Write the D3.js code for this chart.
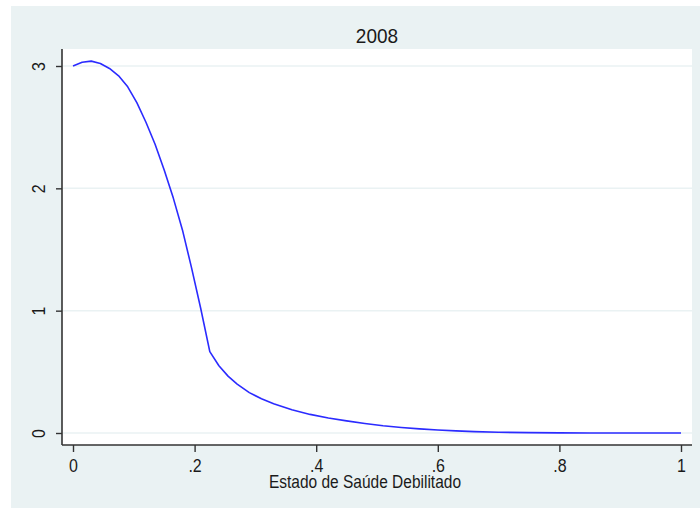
<!DOCTYPE html>
<html>
<head>
<meta charset="utf-8">
<script src="https://cdn.jsdelivr.net/npm/d3@7"></script>
<style>
  html, body { margin: 0; padding: 0; background: #ffffff; }
  svg { display: block; }
  text { font-family: "Liberation Sans", Arial, sans-serif; fill: #1a1a1a; }
</style>
</head>
<body>
<svg id="chart" width="700" height="508"></svg>
<script>
// Kernel density estimate of "Estado de Saúde Debilitado", 2008
const xValues = [0, 0.015, 0.03, 0.045, 0.06, 0.075, 0.09, 0.105, 0.12, 0.135,
  0.15, 0.165, 0.18, 0.195, 0.21, 0.225, 0.24, 0.255, 0.27, 0.29,
  0.31, 0.33, 0.36, 0.39, 0.42, 0.45, 0.48, 0.51, 0.54, 0.57,
  0.60, 0.63, 0.66, 0.70, 0.75, 0.80, 0.85, 0.90, 0.95, 1.0];
const densityValues = [3.00, 3.03, 3.04, 3.02, 2.98, 2.92, 2.83, 2.70, 2.54, 2.36,
  2.15, 1.92, 1.66, 1.35, 1.02, 0.665, 0.55, 0.465, 0.40, 0.33,
  0.28, 0.24, 0.19, 0.152, 0.123, 0.099, 0.078, 0.059, 0.045, 0.034,
  0.025, 0.017, 0.011, 0.006, 0.003, 0.001, 0.0, 0.0, 0.0, 0.0];
const xTicks = [0, 0.2, 0.4, 0.6, 0.8, 1];
const xTickLabels = ["0", ".2", ".4", ".6", ".8", "1"];
const yTicks = [0, 1, 2, 3];
const yTickLabels = ["0", "1", "2", "3"];
const chartTitle = "2008";
const xAxisTitle = "Estado de Saúde Debilitado";

const svg = d3.select("#chart");
const bg = "#eaf2f3";
const ink = "#1a1a1a";
const fontStack = "'Liberation Sans', Arial, sans-serif";

// outer graph region
svg.append("rect").attr("x", 11).attr("y", 6).attr("width", 689).attr("height", 502).attr("fill", bg);

// plot region
const plot = { left: 62, right: 692, top: 49, bottom: 445 };
svg.append("rect")
  .attr("x", plot.left).attr("y", plot.top)
  .attr("width", plot.right - plot.left).attr("height", plot.bottom - plot.top)
  .attr("fill", "#ffffff");

const x = d3.scaleLinear().domain([0, 1]).range([73, 681]);
const y = d3.scaleLinear().domain([0, 3]).range([433, 66]);

// horizontal grid lines
svg.append("g").selectAll("line").data(yTicks).join("line")
  .attr("x1", plot.left + 1).attr("x2", plot.right)
  .attr("y1", d => y(d)).attr("y2", d => y(d))
  .attr("stroke", bg).attr("stroke-width", 1.5);

// density curve
const line = d3.line().x((d, i) => x(xValues[i])).y(d => y(d));
svg.append("path")
  .datum(densityValues)
  .attr("d", line)
  .attr("fill", "none")
  .attr("stroke", "#2b2bff")
  .attr("stroke-width", 1.6)
  .attr("stroke-linejoin", "round");

// y axis
const yAxis = d3.axisLeft(y).tickValues(yTicks).tickSize(6).tickPadding(0)
  .tickFormat((d, i) => yTickLabels[i]);
const gy = svg.append("g").attr("transform", `translate(${plot.left},0)`).call(yAxis);
gy.select(".domain").attr("d", `M0,${plot.top}V${plot.bottom}`).attr("stroke", "#333").attr("stroke-width", 1.6);
gy.selectAll(".tick line").attr("stroke", "#333").attr("stroke-width", 1.4);
gy.selectAll(".tick text")
  .attr("x", 0).attr("dy", null)
  .attr("transform", "translate(-23,0) rotate(-90) scale(1,1.12)")
  .attr("text-anchor", "middle")
  .attr("dominant-baseline", "central")
  .style("font-size", "16px")
  .style("font-family", fontStack)
  .attr("fill", ink);

// x axis
const xAxis = d3.axisBottom(x).tickValues(xTicks).tickSize(7).tickPadding(0)
  .tickFormat((d, i) => xTickLabels[i]);
const gx = svg.append("g").attr("transform", `translate(0,${plot.bottom})`).call(xAxis);
gx.select(".domain").attr("d", `M${plot.left},0H${plot.right}`).attr("stroke", "#333").attr("stroke-width", 1.6);
gx.selectAll(".tick line").attr("stroke", "#333").attr("stroke-width", 1.4);
gx.selectAll(".tick text")
  .attr("y", 0).attr("dy", null)
  .attr("transform", "translate(0,27) scale(1,1.12)")
  .style("font-size", "16px")
  .style("font-family", fontStack)
  .attr("fill", ink);

// titles
svg.append("text").attr("text-anchor", "middle")
  .attr("transform", "translate(377,43) scale(1,1.1)")
  .style("font-size", "19px").text(chartTitle);
svg.append("text").attr("text-anchor", "middle")
  .attr("transform", "translate(365,488) scale(1,1.15)")
  .style("font-size", "15.5px").text(xAxisTitle);
</script>
</body>
</html>
